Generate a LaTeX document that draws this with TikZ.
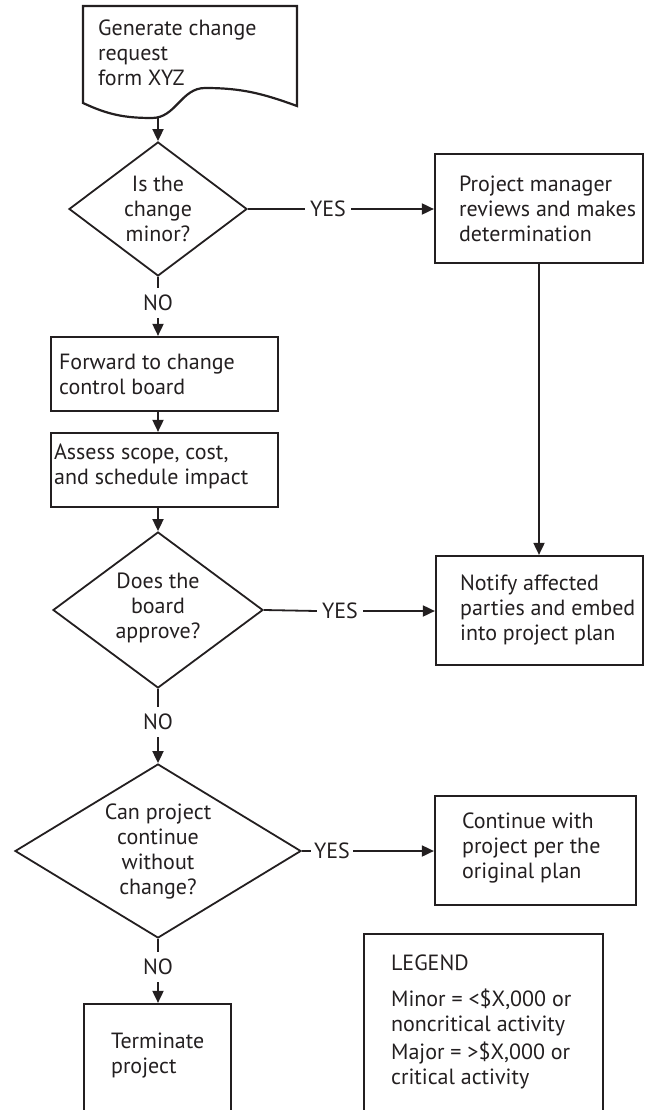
\documentclass[tikz,border=0pt]{standalone}
\usepackage{fontspec}
\setmainfont{PT Sans}
\usetikzlibrary{arrows.meta,shapes.geometric}
\definecolor{ink}{HTML}{231F20}
\begin{document}
\begin{tikzpicture}[x=1pt,y=-1pt,
  every node/.style={font=\fontsize{22}{25}\selectfont, text=ink, inner sep=0pt},
  boxline/.style={draw=ink, line width=2.2pt, line join=miter},
  procbox/.style={boxline, rectangle},
  decision/.style={draw=ink, line width=1.8pt, line join=miter, diamond, align=center},
  txt/.style={align=left},
  lbl/.style={inner xsep=5pt, inner ysep=7pt},
  conn/.style={draw=ink, line width=1.8pt},
  arr/.style={conn, -{Triangle[length=12pt,width=11pt]}}]

\useasboundingbox (0,0) rectangle (648,1110);
\clip (0,0) rectangle (648,1110);

% document symbol: change request form
\draw[boxline] (83,6) -- (297,6) -- (297,106)
  to[out=160,in=0] (205,88)
  to[out=180,in=0] (152,118)
  to[out=180,in=-25] (83,103) -- cycle;
\node[txt, anchor=west] (req) at (98,53) {Generate change\\request\\form XYZ};
\coordinate (reqout) at (158,117);

% decisions
\node[decision, aspect=1.33, minimum width=178pt, minimum height=134pt] (q1) at (158,209) {Is the\\change\\minor?};
\node[decision, aspect=1.35, text depth=9pt, minimum width=210pt, minimum height=156pt] (q2) at (158,610) {Does the\\board\\approve?};
\node[decision, aspect=1.64, minimum width=286pt, minimum height=174pt] (q3) at (158,851) {Can project\\continue\\without\\change?};

% process boxes
\node[procbox, minimum width=208pt, minimum height=109pt] (pm) at (539,208.5) {};
\node[txt, anchor=west] (pmtxt) at ([xshift=25pt]pm.west) {Project manager\\reviews and makes\\determination};

\node[procbox, minimum width=227pt, minimum height=74pt] (fwd) at (164.5,374) {};
\node[txt, anchor=west] (fwdtxt) at ([xshift=9pt]fwd.west) {Forward to change\\control board};

\node[procbox, minimum width=227pt, minimum height=74pt] (assess) at (164.5,470) {};
\node[txt, anchor=west] (assesstxt) at ([xshift=4pt,yshift=4pt]assess.west) {Assess scope, cost,\\and schedule impact};

\node[procbox, minimum width=207pt, minimum height=109pt] (notify) at (539.5,610.5) {};
\node[txt, anchor=west] (notifytxt) at ([xshift=25pt]notify.west) {Notify affected\\parties and embed\\into project plan};

\node[procbox, minimum width=201pt, minimum height=109pt] (cont) at (535.5,850.5) {};
\node[txt, anchor=west] (conttxt) at ([xshift=28pt,yshift=3pt]cont.west) {Continue with\\project per the\\original plan};

\node[procbox, minimum width=147pt, minimum height=136pt] (term) at (157.5,1072) {};
\node[txt, anchor=west] (termtxt) at ([xshift=28pt,yshift=16.5pt]term.west) {Terminate\\project};

\node[procbox, minimum width=239pt, minimum height=206pt] (legend) at (483.5,1037) {};
\node[txt, anchor=north west] (legendtxt) at ([xshift=28pt,yshift=-22pt]legend.north west)
  {LEGEND\\[11pt]Minor = <\$X,000 or\\noncritical activity\\[3pt]Major = >\$X,000 or\\critical activity};

% branch labels
\node[lbl] (yes1) at (328,209) {YES};
\node[lbl] (yes2) at (340,611) {YES};
\node[lbl, inner xsep=3pt] (yes3) at (332,851) {YES};
\node[lbl] (no1) at (158,303) {NO};
\node[lbl] (no2) at (158,722) {NO};
\node[lbl] (no3) at (158,967) {NO};

% connectors
\draw[arr] (reqout) -- (q1.north);
\draw[conn] (q1.east) -- (yes1.west);
\draw[arr] (yes1.east) -- (yes1.east -| pm.west);
\draw[conn] (q1.south) -- (no1.north);
\draw[arr] (no1.south) -- (no1.south |- fwd.north);
\draw[arr] (q1.south |- fwd.south) -- (q1.south |- assess.north);
\draw[arr] (q1.south |- assess.south) -- (q2.north);
\draw[conn] (q2.east) -- (yes2.west);
\draw[arr] (yes2.east) -- (yes2.east -| notify.west);
\draw[arr] (pm.south) -- (pm.south |- notify.north);
\draw[conn] (q2.south) -- (no2.north);
\draw[arr] (no2.south) -- (q3.north);
\draw[conn] (q3.east) -- (yes3.west);
\draw[arr] (yes3.east) -- (yes3.east -| cont.west);
\draw[conn] (q3.south) -- (no3.north);
\draw[arr] (no3.south) -- (no3.south |- term.north);
\end{tikzpicture}
\end{document}
